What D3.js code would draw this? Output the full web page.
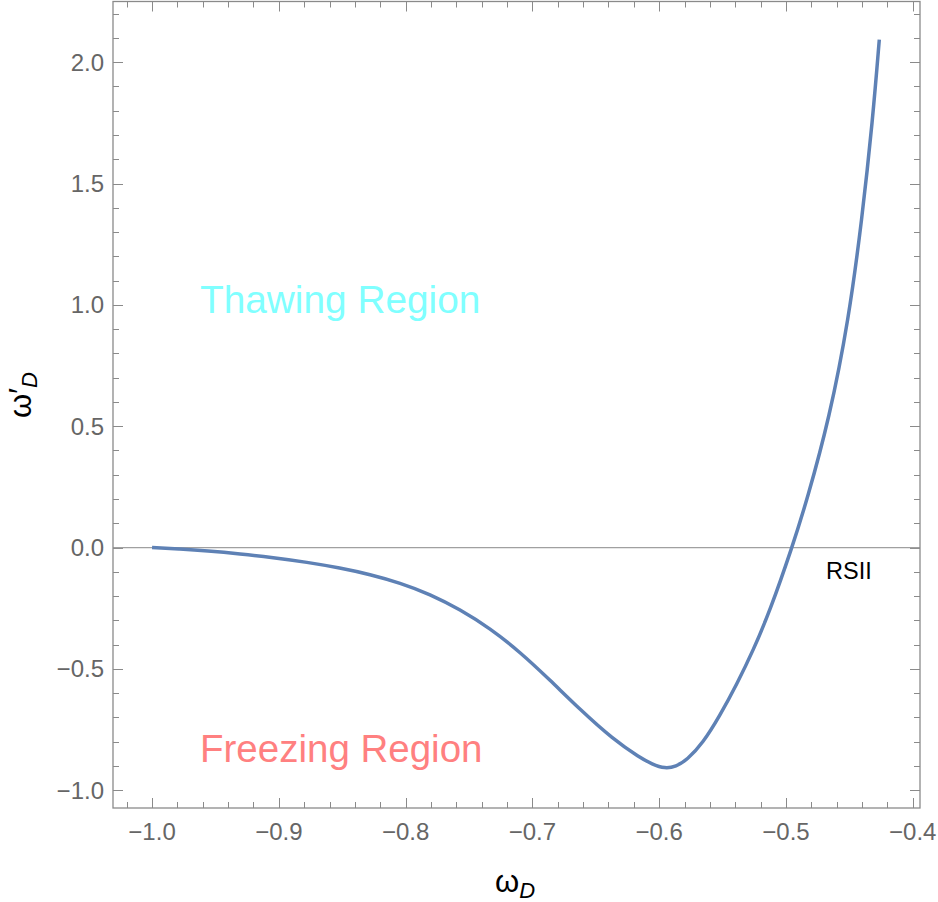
<!DOCTYPE html>
<html>
<head>
<meta charset="utf-8">
<script src="https://cdn.jsdelivr.net/npm/d3@7"></script>
<style>
  body { margin: 0; background: #fff; }
  svg { display: block; font-family: "Liberation Sans", Arial, sans-serif; }
</style>
</head>
<body>
<svg width="938" height="902"></svg>
<script>
// curve: w_D and w'_D
var wD = [-1.0, -0.978, -0.9566, -0.9306, -0.9046, -0.8778, -0.8517, -0.8281, -0.8044,
          -0.7808, -0.7571, -0.7334, -0.7098, -0.6861, -0.6625, -0.6364, -0.6151, -0.6057,
          -0.5954, -0.5868, -0.5781, -0.5655, -0.5521, -0.5387, -0.526, -0.5126, -0.4953,
          -0.4834, -0.4657, -0.4507, -0.4401, -0.4316, -0.4264];
var wDprime = [0.0, -0.006, -0.0136, -0.026, -0.0412, -0.0602, -0.0837, -0.1105, -0.1455,
               -0.192, -0.255, -0.333, -0.430, -0.546, -0.667, -0.790, -0.866, -0.892,
               -0.911, -0.902, -0.875, -0.805, -0.692, -0.562, -0.425, -0.260, -0.001,
               0.196, 0.535, 0.935, 1.351, 1.763, 2.093];

var xTicks = [-1.0, -0.9, -0.8, -0.7, -0.6, -0.5, -0.4];
var yTicks = [-1.0, -0.5, 0.0, 0.5, 1.0, 1.5, 2.0];

var svg = d3.select('svg');
var padL = 113, padR = 920, padT = 1.5, padB = 808;

var x = d3.scaleLinear().domain([-1.0308, -0.3943]).range([padL, padR]);
var y = d3.scaleLinear().domain([-1.073, 2.25]).range([padB, padT]);

var frameColor = '#8a8a8a', labelColor = '#666';

function fmt(v) {
    return d3.format('.1f')(v).replace('-', '\u2212');
}

// minor ticks
var xMinor = d3.range(-1.02, -0.395, 0.02).filter(function (v) {
    return Math.abs(Math.round(v * 10) - v * 10) > 1e-6;
});
var yMinor = d3.range(-1.0, 2.25, 0.1).filter(function (v) {
    return Math.abs(Math.round(v * 2) - v * 2) > 1e-6;
});

var ticks = svg.append('g').attr('stroke', frameColor).attr('stroke-width', 1);
function addX(vals, len) {
    vals.forEach(function (v) {
        var px = Math.round(x(v)) + 0.5;
        ticks.append('line').attr('x1', px).attr('x2', px).attr('y1', padB).attr('y2', padB - len);
        ticks.append('line').attr('x1', px).attr('x2', px).attr('y1', padT).attr('y2', padT + len);
    });
}
function addY(vals, len) {
    vals.forEach(function (v) {
        var py = Math.round(y(v)) + 0.5;
        ticks.append('line').attr('x1', padL).attr('x2', padL + len).attr('y1', py).attr('y2', py);
        ticks.append('line').attr('x1', padR).attr('x2', padR - len).attr('y1', py).attr('y2', py);
    });
}
addX(xTicks, 10);
addX(xMinor, 6);
addY(yTicks, 10);
addY(yMinor, 6);

// zero line
svg.append('line')
    .attr('x1', padL).attr('x2', padR)
    .attr('y1', y(0)).attr('y2', y(0))
    .attr('stroke', '#a0a0a0').attr('stroke-width', 1.2);

// curve
var line = d3.line()
    .x(function (d, i) { return x(wD[i]); })
    .y(function (d, i) { return y(wDprime[i]); })
    .curve(d3.curveBasis);
svg.append('path')
    .attr('d', line(wD))
    .attr('fill', 'none')
    .attr('stroke', '#5e81b5')
    .attr('stroke-width', 3.5)
    .attr('stroke-linejoin', 'round');

// frame
svg.append('rect')
    .attr('x', padL).attr('y', padT)
    .attr('width', padR - padL).attr('height', padB - padT)
    .attr('fill', 'none').attr('stroke', frameColor).attr('stroke-width', 1.3);

// tick labels
svg.append('g').selectAll('text').data(xTicks).enter().append('text')
    .attr('x', function (d) { return x(d); })
    .attr('y', 840)
    .attr('text-anchor', 'middle')
    .attr('font-size', 24)
    .attr('fill', labelColor)
    .text(fmt);

svg.append('g').selectAll('text').data(yTicks).enter().append('text')
    .attr('x', 104)
    .attr('y', function (d) { return y(d) + 8.5; })
    .attr('text-anchor', 'end')
    .attr('font-size', 24)
    .attr('fill', labelColor)
    .text(fmt);

// axis titles
var xt = svg.append('text')
    .attr('x', 515).attr('y', 892)
    .attr('text-anchor', 'middle')
    .attr('font-size', 31)
    .attr('fill', '#000');
xt.append('tspan').text('\u03c9');
xt.append('tspan').attr('font-size', 22).attr('font-style', 'italic').attr('dy', 6).text('D');

var yt = svg.append('text')
    .attr('transform', 'translate(31,395) rotate(-90)')
    .attr('text-anchor', 'middle')
    .attr('font-size', 31)
    .attr('fill', '#000');
yt.append('tspan').text('\u03c9\u2032');
yt.append('tspan').attr('font-size', 22).attr('font-style', 'italic').attr('dy', 6).text('D');

// region labels
svg.append('text')
    .attr('x', 200).attr('y', 313)
    .attr('font-size', 38.8)
    .attr('fill', '#80ffff')
    .text('Thawing Region');
svg.append('text')
    .attr('x', 200).attr('y', 761.5)
    .attr('font-size', 38.5)
    .attr('fill', '#ff8080')
    .text('Freezing Region');
svg.append('text')
    .attr('x', 826).attr('y', 579)
    .attr('font-size', 23.5)
    .attr('fill', '#000')
    .text('RSII');
</script>
</body>
</html>
